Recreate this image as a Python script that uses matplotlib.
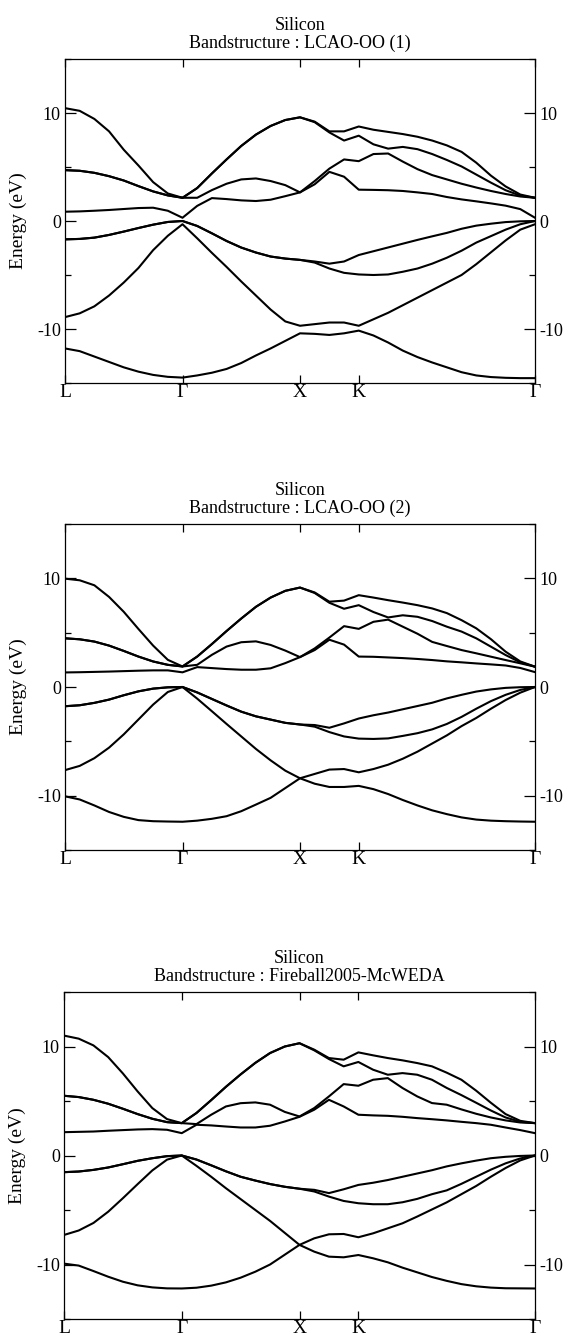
import matplotlib
matplotlib.use("Agg")
import matplotlib.pyplot as plt
from matplotlib.ticker import MultipleLocator

plt.rcParams["font.family"] = ["Liberation Serif", "DejaVu Serif"]
plt.rcParams["axes.unicode_minus"] = False

# k-path sample positions: L(0) - Gamma(1) - X(2) - K(2.5) - Gamma(4)
K_PATH = [0.0, 0.125, 0.25, 0.375, 0.5, 0.625, 0.75, 0.875,
          1.0, 1.125, 1.25, 1.375, 1.5, 1.625, 1.75, 1.875,
          2.0, 2.125, 2.25, 2.375,
          2.5, 2.625, 2.75, 2.875, 3.0, 3.125, 3.25, 3.375, 3.5, 3.625, 3.75, 3.875, 4.0]
SYM_POS = [0.0, 1.0, 2.0, 2.5, 4.0]
SYM_LABELS = ["L", "Γ", "X", "K", "Γ"]

TITLES = ["LCAO-OO (1)", "LCAO-OO (2)", "Fireball2005-McWEDA"]

# band energies (eV), one list per band, lowest first
LCAO1_BANDS = [
    [-11.8, -12.05, -12.55, -13.05, -13.55, -13.95, -14.25, -14.43, -14.5,
     -14.3, -14.05, -13.7, -13.15, -12.45, -11.8, -11.1, -10.4,
     -10.45, -10.55, -10.4, -10.15,
     -10.6, -11.25, -12.0, -12.6, -13.1, -13.55, -14.0, -14.3, -14.45, -14.52, -14.55, -14.55],
    [-8.9, -8.55, -7.9, -6.9, -5.7, -4.35, -2.7, -1.37, -0.3,
     -1.6, -2.95, -4.25, -5.6, -6.9, -8.2, -9.3, -9.7,
     -9.55, -9.4, -9.4, -9.7,
     -9.1, -8.5, -7.8, -7.1, -6.4, -5.7, -5.0, -4.0, -2.9, -1.8, -0.8, -0.3],
    [-1.7, -1.66, -1.54, -1.29, -0.98, -0.65, -0.34, -0.09, 0.0,
     -0.46, -1.14, -1.85, -2.46, -2.92, -3.29, -3.48, -3.6,
     -3.85, -4.4, -4.8, -4.95,
     -5.0, -4.95, -4.7, -4.4, -3.95, -3.4, -2.75, -2.0, -1.4, -0.8, -0.3, 0.0],
    [-1.7, -1.66, -1.54, -1.29, -0.98, -0.65, -0.34, -0.09, 0.0,
     -0.46, -1.14, -1.85, -2.46, -2.92, -3.29, -3.48, -3.6,
     -3.75, -3.95, -3.75, -3.15,
     -2.8, -2.45, -2.1, -1.75, -1.42, -1.1, -0.72, -0.43, -0.25, -0.1, -0.03, 0.0],
    [0.86, 0.89, 0.95, 1.02, 1.11, 1.2, 1.23, 0.95, 0.3,
     1.4, 2.12, 2.03, 1.91, 1.85, 1.97, 2.3, 2.65,
     3.4, 4.55, 4.1, 2.9,
     2.88, 2.85, 2.78, 2.65, 2.5, 2.22, 2.0, 1.82, 1.63, 1.42, 1.1, 0.3],
    [4.71, 4.65, 4.46, 4.15, 3.75, 3.23, 2.74, 2.37, 2.15,
     2.15, 2.86, 3.45, 3.85, 3.94, 3.7, 3.32, 2.65,
     3.7, 4.85, 5.7, 5.54,
     6.2, 6.25, 5.5, 4.8, 4.25, 3.85, 3.45, 3.1, 2.78, 2.5, 2.27, 2.15],
    [4.71, 4.65, 4.46, 4.15, 3.75, 3.23, 2.74, 2.37, 2.15,
     3.05, 4.4, 5.7, 6.95, 8.0, 8.8, 9.35, 9.6,
     9.15, 8.2, 7.45, 7.9,
     7.1, 6.7, 6.86, 6.65, 6.2, 5.65, 5.05, 4.3, 3.55, 2.85, 2.35, 2.15],
    [10.45, 10.2, 9.45, 8.3, 6.6, 5.14, 3.6, 2.55, 2.15,
     3.05, 4.4, 5.7, 6.95, 8.0, 8.8, 9.35, 9.6,
     9.2, 8.3, 8.3, 8.75,
     8.45, 8.25, 8.05, 7.8, 7.45, 7.0, 6.4, 5.4, 4.2, 3.2, 2.45, 2.15],
]

LCAO2_BANDS = [
    [-10.06, -10.35, -10.9, -11.5, -11.95, -12.25, -12.35, -12.38, -12.4,
     -12.3, -12.13, -11.89, -11.43, -10.82, -10.2, -9.3, -8.4,
     -8.9, -9.2, -9.2, -9.1,
     -9.4, -9.85, -10.4, -10.9, -11.35, -11.7, -12.0, -12.2, -12.3, -12.35, -12.38, -12.4],
    [-7.65, -7.26, -6.55, -5.58, -4.36, -2.99, -1.62, -0.46, 0.0,
     -1.07, -2.23, -3.4, -4.55, -5.7, -6.75, -7.7, -8.4,
     -8.0, -7.6, -7.55, -7.85,
     -7.55, -7.15, -6.6, -5.95, -5.2, -4.45, -3.6, -2.85, -2.0, -1.2, -0.52, 0.0],
    [-1.77, -1.68, -1.46, -1.16, -0.76, -0.4, -0.15, -0.03, 0.0,
     -0.5, -1.1, -1.7, -2.27, -2.7, -3.0, -3.3, -3.45,
     -3.65, -4.15, -4.55, -4.75,
     -4.78, -4.73, -4.5, -4.25, -3.9, -3.4, -2.75, -2.0, -1.3, -0.72, -0.27, 0.0],
    [-1.77, -1.68, -1.46, -1.16, -0.76, -0.4, -0.15, -0.03, 0.0,
     -0.5, -1.1, -1.7, -2.27, -2.7, -3.0, -3.3, -3.45,
     -3.5, -3.75, -3.35, -2.9,
     -2.6, -2.35, -2.05, -1.75, -1.45, -1.05, -0.72, -0.42, -0.22, -0.08, -0.02, 0.0],
    [1.34, 1.36, 1.39, 1.42, 1.46, 1.5, 1.53, 1.53, 1.35,
     1.83, 1.74, 1.65, 1.59, 1.59, 1.72, 2.2, 2.75,
     3.4, 4.35, 3.9, 2.8,
     2.78, 2.72, 2.66, 2.58, 2.48, 2.36, 2.27, 2.17, 2.08, 1.98, 1.75, 1.37],
    [4.48, 4.39, 4.18, 3.81, 3.32, 2.8, 2.35, 2.04, 1.89,
     2.04, 2.96, 3.72, 4.12, 4.2, 3.87, 3.35, 2.75,
     3.55, 4.55, 5.6, 5.35,
     6.0, 6.2, 5.55, 4.9, 4.15, 3.77, 3.4, 3.1, 2.79, 2.48, 2.18, 1.87],
    [4.48, 4.39, 4.18, 3.81, 3.32, 2.8, 2.35, 2.04, 1.89,
     2.8, 3.95, 5.15, 6.3, 7.38, 8.23, 8.85, 9.15,
     8.65, 7.75, 7.2, 7.53,
     6.9, 6.4, 6.6, 6.46, 6.07, 5.55, 5.1, 4.48, 3.71, 2.94, 2.27, 1.87],
    [9.97, 9.82, 9.36, 8.29, 6.92, 5.34, 3.81, 2.5, 1.89,
     2.8, 3.95, 5.15, 6.3, 7.38, 8.23, 8.85, 9.15,
     8.7, 7.85, 7.95, 8.45,
     8.23, 7.99, 7.77, 7.53, 7.23, 6.8, 6.15, 5.4, 4.4, 3.25, 2.35, 1.87],
]

FIREBALL_BANDS = [
    [-9.92, -10.1, -10.6, -11.12, -11.58, -11.91, -12.1, -12.19, -12.2,
     -12.13, -11.94, -11.64, -11.21, -10.66, -10.0, -9.1, -8.2,
     -8.82, -9.28, -9.34, -9.13,
     -9.43, -9.8, -10.29, -10.72, -11.15, -11.5, -11.8, -12.0, -12.12, -12.18, -12.19, -12.2],
    [-7.29, -6.88, -6.19, -5.16, -3.92, -2.63, -1.37, -0.38, 0.0,
     -0.95, -1.95, -3.0, -4.0, -5.0, -6.0, -7.1, -8.2,
     -7.6, -7.23, -7.2, -7.5,
     -7.14, -6.68, -6.22, -5.6, -4.95, -4.3, -3.55, -2.8, -1.95, -1.15, -0.45, 0.0],
    [-1.53, -1.47, -1.32, -1.1, -0.8, -0.49, -0.25, -0.06, 0.0,
     -0.37, -0.9, -1.45, -1.95, -2.3, -2.62, -2.87, -3.05,
     -3.3, -3.77, -4.17, -4.38,
     -4.47, -4.47, -4.29, -3.98, -3.55, -3.2, -2.6, -1.95, -1.3, -0.72, -0.27, 0.0],
    [-1.53, -1.47, -1.32, -1.1, -0.8, -0.49, -0.25, -0.06, 0.0,
     -0.37, -0.9, -1.45, -1.95, -2.3, -2.62, -2.87, -3.05,
     -3.15, -3.45, -3.1, -2.7,
     -2.5, -2.25, -1.95, -1.65, -1.35, -1.0, -0.72, -0.47, -0.25, -0.12, -0.04, 0.0],
    [2.14, 2.17, 2.2, 2.27, 2.33, 2.39, 2.42, 2.36, 2.05,
     2.82, 2.76, 2.66, 2.57, 2.57, 2.73, 3.12, 3.55,
     4.2, 5.11, 4.5, 3.74,
     3.68, 3.64, 3.55, 3.43, 3.33, 3.22, 3.09, 2.97, 2.82, 2.57, 2.33, 2.05],
    [5.48, 5.36, 5.11, 4.75, 4.29, 3.8, 3.37, 3.06, 2.97,
     2.88, 3.74, 4.5, 4.8, 4.87, 4.66, 4.0, 3.58,
     4.35, 5.42, 6.55, 6.4,
     6.95, 7.1, 6.19, 5.42, 4.81, 4.66, 4.23, 3.83, 3.49, 3.22, 3.03, 2.97],
    [5.48, 5.36, 5.11, 4.75, 4.29, 3.8, 3.37, 3.06, 2.97,
     3.9, 5.08, 6.3, 7.44, 8.5, 9.4, 10.0, 10.3,
     9.65, 8.85, 8.18, 8.58,
     7.87, 7.41, 7.56, 7.41, 6.95, 6.2, 5.54, 4.84, 4.13, 3.49, 3.09, 2.97],
    [11.0, 10.72, 10.1, 9.03, 7.53, 5.88, 4.35, 3.34, 2.97,
     3.9, 5.08, 6.3, 7.44, 8.5, 9.4, 10.0, 10.3,
     9.71, 8.94, 8.79, 9.46,
     9.19, 8.94, 8.73, 8.48, 8.18, 7.6, 6.95, 5.95, 4.84, 3.8, 3.18, 2.97],
]

W, H = 569, 1341
# axes boxes in pixels: left, top, right, bottom
BOXES = [(65, 59, 535, 383), (65, 524, 535, 850), (64, 992, 535, 1319)]


def draw_panel(ax, bands, method):
    for band in bands:
        ax.plot(K_PATH, band, color="black", linewidth=1.5)
    ax.set_xlim(SYM_POS[0], SYM_POS[-1])
    ax.set_ylim(-15, 15)
    ax.set_xticks(SYM_POS)
    ax.set_xticklabels(SYM_LABELS)
    ax.yaxis.set_major_locator(MultipleLocator(10))
    ax.yaxis.set_minor_locator(MultipleLocator(5))
    ax.tick_params(axis="both", which="both", direction="in", top=True, right=True,
                   labelright=True, width=0.9, colors="black")
    ax.tick_params(axis="y", which="major", length=8, pad=3, labelsize=13)
    ax.tick_params(axis="y", which="minor", length=4)
    ax.tick_params(axis="x", which="major", length=6, pad=1, labelsize=14)
    for sp in ax.spines.values():
        sp.set_linewidth(0.9)
    ax.set_ylabel("Energy (eV)", fontsize=14)
    ax.yaxis.set_label_coords(-0.08, 0.5)
    ax.annotate("Silicon", xy=(0.5, 1.0), xycoords="axes fraction",
                xytext=(0, 24), textcoords="offset points",
                ha="center", va="center", fontsize=13)
    ax.annotate("Bandstructure : " + method, xy=(0.5, 1.0), xycoords="axes fraction",
                xytext=(0, 11.5), textcoords="offset points",
                ha="center", va="center", fontsize=13)


fig = plt.figure(figsize=(W / 100, H / 100), dpi=100)
for (l, t, r, b), bands, method in zip(BOXES, [LCAO1_BANDS, LCAO2_BANDS, FIREBALL_BANDS], TITLES):
    ax = fig.add_axes([l / W, 1 - b / H, (r - l) / W, (b - t) / H])
    draw_panel(ax, bands, method)

fig.savefig("out.png", dpi=100, facecolor="white")
plt.close(fig)
